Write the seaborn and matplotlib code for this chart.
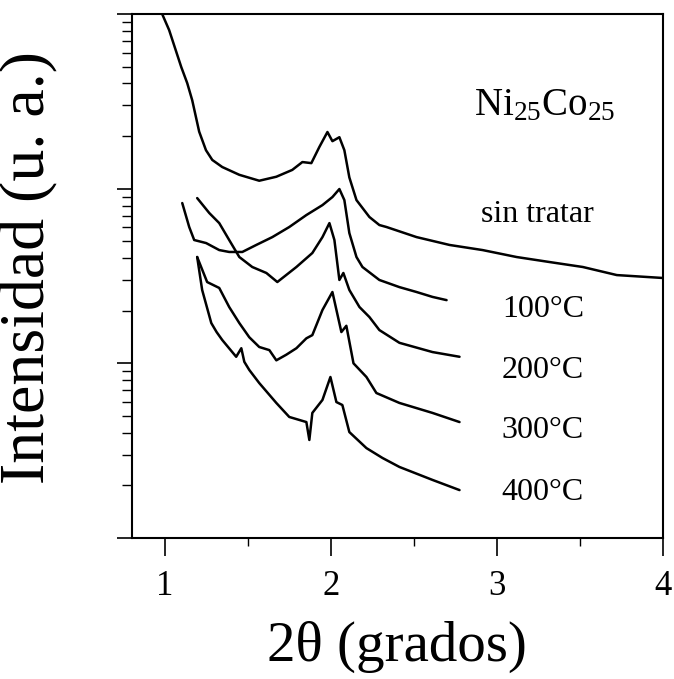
import matplotlib
matplotlib.use("Agg")
import matplotlib.pyplot as plt
from matplotlib.ticker import LogLocator, NullFormatter, MultipleLocator, FixedLocator
import seaborn as sns
import pandas as pd

# XRD low-angle scans of Ni25Co25, intensity in arbitrary units
theta_st = [0.978, 1.024, 1.097, 1.133, 1.163, 1.205, 1.246, 1.284, 1.344, 1.447,
            1.567, 1.670, 1.766, 1.827, 1.881, 1.929, 1.978, 2.008, 2.050, 2.080,
            2.110, 2.153, 2.231, 2.291, 2.334, 2.515, 2.714, 2.913, 3.118, 3.317,
            3.517, 3.722, 3.999]
inten_st = [1020, 809, 497, 402, 321, 212, 166, 146, 133, 120,
            111, 117, 128, 142, 140, 173, 211, 187, 197, 166,
            116, 86.0, 68.8, 61.9, 60.3, 52.8, 47.6, 44.5, 40.6, 38.0,
            35.6, 32.0, 30.8]

theta_100 = [1.103, 1.145, 1.175, 1.247, 1.326, 1.386, 1.465, 1.549, 1.646, 1.748,
             1.851, 1.948, 2.008, 2.050, 2.080, 2.110, 2.153, 2.189, 2.291, 2.412,
             2.515, 2.611, 2.696]
inten_100 = [82.7, 60.3, 50.8, 48.8, 44.5, 43.4, 43.4, 47.6, 52.8, 60.3,
             70.6, 80.5, 89.5, 99.5, 86.0, 55.7, 40.6, 35.6, 30.0, 27.3,
             25.6, 24.0, 23.0]

theta_200 = [1.193, 1.266, 1.326, 1.386, 1.447, 1.525, 1.610, 1.676, 1.791, 1.887,
             1.948, 1.990, 2.020, 2.050, 2.074, 2.110, 2.171, 2.231, 2.291, 2.412,
             2.611, 2.774]
inten_200 = [88.3, 72.5, 63.5, 50.8, 40.6, 35.6, 32.9, 29.2, 35.6, 42.8,
             52.8, 63.5, 50.8, 30.0, 32.9, 26.3, 21.0, 18.4, 15.5, 13.1,
             11.6, 10.9]

theta_300 = [1.193, 1.253, 1.326, 1.386, 1.447, 1.507, 1.567, 1.628, 1.670, 1.730,
             1.791, 1.851, 1.887, 1.948, 2.008, 2.062, 2.092, 2.135, 2.213, 2.273,
             2.412, 2.611, 2.774]
inten_300 = [40.6, 29.2, 27.0, 21.0, 17.0, 14.1, 12.4, 11.9, 10.4, 11.2,
             12.2, 13.9, 14.5, 20.2, 25.6, 15.1, 16.4, 10.0, 8.35, 6.76,
             5.93, 5.20, 4.61]

theta_400 = [1.193, 1.223, 1.278, 1.310, 1.344, 1.428, 1.459, 1.477, 1.507, 1.567,
             1.670, 1.748, 1.851, 1.869, 1.887, 1.948, 1.996, 2.032, 2.068, 2.110,
             2.213, 2.310, 2.412, 2.611, 2.774]
inten_400 = [40.6, 26.3, 17.0, 15.1, 13.6, 10.9, 12.2, 10.2, 9.16, 7.71,
             5.93, 4.93, 4.61, 3.64, 5.20, 6.17, 8.35, 6.00, 5.77, 4.04,
             3.27, 2.87, 2.55, 2.15, 1.88]

series_names = ["sin tratar", "100\u00b0C", "200\u00b0C", "300\u00b0C", "400\u00b0C"]
x_ticks = [1, 2, 3, 4]

sns.set_style("ticks")
plt.rcParams["font.family"] = ["Liberation Serif", "DejaVu Serif"]
plt.rcParams["mathtext.fontset"] = "custom"
plt.rcParams["mathtext.rm"] = "Liberation Serif"
plt.rcParams["mathtext.it"] = "Liberation Serif:italic"
plt.rcParams["text.color"] = "black"
plt.rcParams["axes.labelcolor"] = "black"
plt.rcParams["xtick.color"] = "black"
plt.rcParams["ytick.color"] = "black"

fig = plt.figure(figsize=(6.74, 6.79), dpi=100)
ax = fig.add_axes([0.1958, 0.2077, 0.7878, 0.7717])

curves = [(theta_st, inten_st), (theta_100, inten_100), (theta_200, inten_200),
          (theta_300, inten_300), (theta_400, inten_400)]
for name, (tx, iy) in zip(series_names, curves):
    df = pd.DataFrame({"theta": tx, "I": iy})
    sns.lineplot(data=df, x="theta", y="I", color="black", linewidth=1.8,
                 estimator=None, sort=False, ax=ax)

ax.set_yscale("log")
ax.set_xlim(0.8, 4.0)
ax.set_ylim(1, 1000)

ax.xaxis.set_major_locator(FixedLocator(x_ticks))
ax.xaxis.set_minor_locator(MultipleLocator(0.5))
ax.set_xticklabels([str(v) for v in x_ticks])
ax.yaxis.set_major_locator(LogLocator(base=10))
ax.yaxis.set_minor_locator(LogLocator(base=10, subs=range(2, 10)))
ax.yaxis.set_major_formatter(NullFormatter())
ax.yaxis.set_minor_formatter(NullFormatter())

ax.tick_params(axis="x", which="major", direction="out", length=13, width=1.2,
               labelsize=25, pad=10, colors="black")
ax.tick_params(axis="x", which="minor", direction="out", length=6, width=1.0)
ax.tick_params(axis="y", which="major", direction="out", length=11, width=1.2)
ax.tick_params(axis="y", which="minor", direction="out", length=7, width=1.0)

for side in ["left", "right", "top", "bottom"]:
    ax.spines[side].set_visible(True)
    ax.spines[side].set_linewidth(1.5)
    ax.spines[side].set_color("black")

ax.set_xlabel("2\u03b8 (grados)", fontsize=41, va="center")
ax.xaxis.set_label_coords(0.499, -0.208)
ax.set_ylabel("Intensidad (u. a.)", fontsize=46, va="center")
ax.yaxis.set_label_coords(-0.193, 0.517)

ax.text(0.778, 0.807, r"Ni$_{\mathrm{25}}$Co$_{\mathrm{25}}$", transform=ax.transAxes,
        ha="center", va="baseline", fontsize=28)
label_y = [0.603, 0.422, 0.305, 0.191, 0.0725]
label_x = [0.763, 0.774, 0.774, 0.774, 0.774]
for name, lx, ly in zip(series_names, label_x, label_y):
    ax.text(lx, ly, name, transform=ax.transAxes, ha="center", va="baseline",
            fontsize=23)

fig.savefig("out.png", dpi=100, facecolor="white")
